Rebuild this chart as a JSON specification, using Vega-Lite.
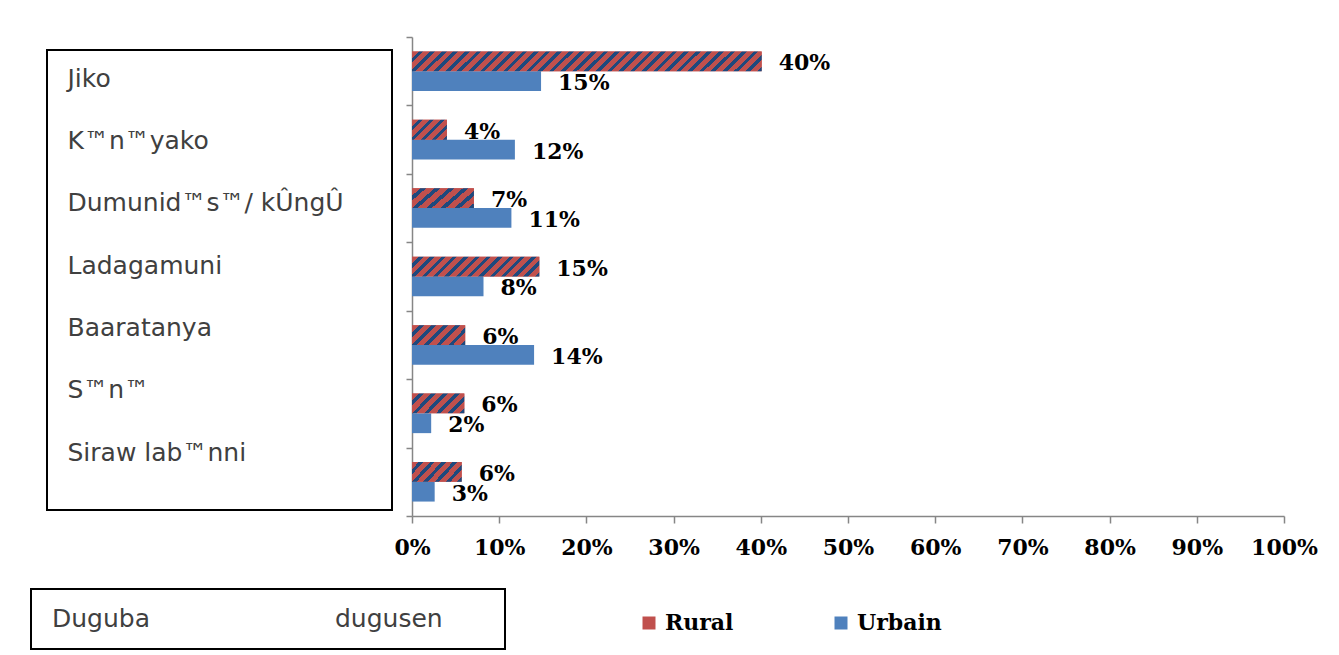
{
  "$schema": "https://vega.github.io/schema/vega-lite/v6.json",
  "padding": {"left": 30, "top": 36, "right": 0, "bottom": 0},
  "background": "white",
  "datasets": {
    "main": [
      {"cat": "Jiko", "series": "Rural", "value": 0.401},
      {"cat": "Jiko", "series": "Urbain", "value": 0.148},
      {"cat": "K™n™yako", "series": "Rural", "value": 0.04},
      {"cat": "K™n™yako", "series": "Urbain", "value": 0.118},
      {"cat": "Dumunid™s™/ kÛngÛ", "series": "Rural", "value": 0.071},
      {"cat": "Dumunid™s™/ kÛngÛ", "series": "Urbain", "value": 0.114},
      {"cat": "Ladagamuni", "series": "Rural", "value": 0.146},
      {"cat": "Ladagamuni", "series": "Urbain", "value": 0.082},
      {"cat": "Baaratanya", "series": "Rural", "value": 0.061},
      {"cat": "Baaratanya", "series": "Urbain", "value": 0.14},
      {"cat": "S™n™", "series": "Rural", "value": 0.06},
      {"cat": "S™n™", "series": "Urbain", "value": 0.022},
      {"cat": "Siraw lab™nni", "series": "Rural", "value": 0.057},
      {"cat": "Siraw lab™nni", "series": "Urbain", "value": 0.026}
    ],
    "footer": [{"word": "Duguba"}, {"word": "dugusen"}],
    "empty": []
  },
  "config": {"view": {"stroke": null}, "legend": {"padding": 0}},
  "resolve": {"legend": {"color": "independent"}},
  "spacing": 30,
  "vconcat": [
    {
      "spacing": 0,
      "resolve": {"legend": {"color": "independent"}},
      "hconcat": [
        {
          "width": 15,
          "height": 1,
          "data": {"name": "empty"},
          "mark": {"type": "text", "text": ""}
        },
        {
          "spacing": 0,
          "vconcat": [
            {
              "width": 1,
              "height": 12,
              "data": {"name": "empty"},
              "mark": {"type": "text", "text": ""}
            },
            {
              "width": 345,
              "height": 460,
              "view": {"stroke": "#000000", "strokeWidth": 2},
              "data": {"name": "main"},
              "transform": [{"filter": "datum.series === 'Rural'"}],
              "mark": {"type": "text", "text": ""},
              "encoding": {
                "y": {
                  "field": "cat", "type": "nominal", "sort": null,
                  "scale": {"type": "point", "range": [28, 402], "padding": 0},
                  "axis": {
                    "title": null, "domain": false, "grid": false, "ticks": false,
                    "labelAlign": "left", "labelBaseline": "middle", "labelPadding": -20,
                    "labelFont": "DejaVu Sans", "labelFontSize": 25, "labelColor": "#404040",
                    "labelLimit": 500, "labelOverlap": false, "minExtent": 0
                  }
                }
              }
            }
          ]
        },
        {
          "width": 872,
          "height": 479,
          "data": {"name": "main"},
          "encoding": {
            "y": {
              "field": "cat", "type": "nominal", "sort": null,
              "scale": {"paddingInner": 0, "paddingOuter": 0},
              "axis": {
                "title": null, "labels": false, "grid": false, "tickBand": "extent",
                "tickSize": 6, "tickColor": "#868686", "tickWidth": 1.5,
                "domainColor": "#868686", "domainWidth": 1.5, "minExtent": 0
              }
            },
            "yOffset": {
              "field": "series", "type": "nominal",
              "scale": {"domain": ["Rural", "Urbain"], "paddingInner": 0, "paddingOuter": 0.73}
            },
            "x": {
              "field": "value", "type": "quantitative",
              "scale": {"domain": [0, 1], "nice": false},
              "axis": {
                "title": null, "format": ".0%", "values": [0, 0.1, 0.2, 0.3, 0.4, 0.5, 0.6, 0.7, 0.8, 0.9, 1],
                "grid": false, "tickSize": 7, "tickColor": "#868686", "tickWidth": 1.5,
                "domainColor": "#868686", "domainWidth": 1.5,
                "labelFont": "DejaVu Serif", "labelFontWeight": "bold", "labelFontSize": 22,
                "labelColor": "#000000", "labelPadding": 14, "labelFlush": false, "labelOverlap": false
              }
            }
          },
          "layer": [
            {
              "mark": {"type": "bar"},
              "encoding": {
                "color": {
                  "field": "series", "type": "nominal",
                  "scale": {"domain": ["Rural", "Urbain"], "range": ["#C0504D", "#4F81BD"]},
                  "legend": null
                }
              }
            },
            {
              "transform": [{"filter": {"and": [{"field": "series", "equal": "Rural"}, {"field": "cat", "oneOf": ["Jiko"]}]}}],
              "mark": {
                "type": "bar",
                "fill": {
                  "gradient": "linear", "x1": 0, "y1": 0, "x2": 1.053, "y2": 0.06,
                  "stops": [
                    {"offset": 0, "color": "#c0504d"}, {"offset": 0.01875, "color": "#c0504d"}, {"offset": 0.01875, "color": "#1f497d"}, {"offset": 0.03125, "color": "#1f497d"},
                    {"offset": 0.03125, "color": "#c0504d"}, {"offset": 0.05, "color": "#c0504d"}, {"offset": 0.05, "color": "#1f497d"}, {"offset": 0.0625, "color": "#1f497d"},
                    {"offset": 0.0625, "color": "#c0504d"}, {"offset": 0.08125, "color": "#c0504d"}, {"offset": 0.08125, "color": "#1f497d"}, {"offset": 0.09375, "color": "#1f497d"},
                    {"offset": 0.09375, "color": "#c0504d"}, {"offset": 0.1125, "color": "#c0504d"}, {"offset": 0.1125, "color": "#1f497d"}, {"offset": 0.125, "color": "#1f497d"},
                    {"offset": 0.125, "color": "#c0504d"}, {"offset": 0.14375, "color": "#c0504d"}, {"offset": 0.14375, "color": "#1f497d"}, {"offset": 0.15625, "color": "#1f497d"},
                    {"offset": 0.15625, "color": "#c0504d"}, {"offset": 0.175, "color": "#c0504d"}, {"offset": 0.175, "color": "#1f497d"}, {"offset": 0.1875, "color": "#1f497d"},
                    {"offset": 0.1875, "color": "#c0504d"}, {"offset": 0.20625, "color": "#c0504d"}, {"offset": 0.20625, "color": "#1f497d"}, {"offset": 0.21875, "color": "#1f497d"},
                    {"offset": 0.21875, "color": "#c0504d"}, {"offset": 0.2375, "color": "#c0504d"}, {"offset": 0.2375, "color": "#1f497d"}, {"offset": 0.25, "color": "#1f497d"},
                    {"offset": 0.25, "color": "#c0504d"}, {"offset": 0.26875, "color": "#c0504d"}, {"offset": 0.26875, "color": "#1f497d"}, {"offset": 0.28125, "color": "#1f497d"},
                    {"offset": 0.28125, "color": "#c0504d"}, {"offset": 0.3, "color": "#c0504d"}, {"offset": 0.3, "color": "#1f497d"}, {"offset": 0.3125, "color": "#1f497d"},
                    {"offset": 0.3125, "color": "#c0504d"}, {"offset": 0.33125, "color": "#c0504d"}, {"offset": 0.33125, "color": "#1f497d"}, {"offset": 0.34375, "color": "#1f497d"},
                    {"offset": 0.34375, "color": "#c0504d"}, {"offset": 0.3625, "color": "#c0504d"}, {"offset": 0.3625, "color": "#1f497d"}, {"offset": 0.375, "color": "#1f497d"},
                    {"offset": 0.375, "color": "#c0504d"}, {"offset": 0.39375, "color": "#c0504d"}, {"offset": 0.39375, "color": "#1f497d"}, {"offset": 0.40625, "color": "#1f497d"},
                    {"offset": 0.40625, "color": "#c0504d"}, {"offset": 0.425, "color": "#c0504d"}, {"offset": 0.425, "color": "#1f497d"}, {"offset": 0.4375, "color": "#1f497d"},
                    {"offset": 0.4375, "color": "#c0504d"}, {"offset": 0.45625, "color": "#c0504d"}, {"offset": 0.45625, "color": "#1f497d"}, {"offset": 0.46875, "color": "#1f497d"},
                    {"offset": 0.46875, "color": "#c0504d"}, {"offset": 0.4875, "color": "#c0504d"}, {"offset": 0.4875, "color": "#1f497d"}, {"offset": 0.5, "color": "#1f497d"},
                    {"offset": 0.5, "color": "#c0504d"}, {"offset": 0.51875, "color": "#c0504d"}, {"offset": 0.51875, "color": "#1f497d"}, {"offset": 0.53125, "color": "#1f497d"},
                    {"offset": 0.53125, "color": "#c0504d"}, {"offset": 0.55, "color": "#c0504d"}, {"offset": 0.55, "color": "#1f497d"}, {"offset": 0.5625, "color": "#1f497d"},
                    {"offset": 0.5625, "color": "#c0504d"}, {"offset": 0.58125, "color": "#c0504d"}, {"offset": 0.58125, "color": "#1f497d"}, {"offset": 0.59375, "color": "#1f497d"},
                    {"offset": 0.59375, "color": "#c0504d"}, {"offset": 0.6125, "color": "#c0504d"}, {"offset": 0.6125, "color": "#1f497d"}, {"offset": 0.625, "color": "#1f497d"},
                    {"offset": 0.625, "color": "#c0504d"}, {"offset": 0.64375, "color": "#c0504d"}, {"offset": 0.64375, "color": "#1f497d"}, {"offset": 0.65625, "color": "#1f497d"},
                    {"offset": 0.65625, "color": "#c0504d"}, {"offset": 0.675, "color": "#c0504d"}, {"offset": 0.675, "color": "#1f497d"}, {"offset": 0.6875, "color": "#1f497d"},
                    {"offset": 0.6875, "color": "#c0504d"}, {"offset": 0.70625, "color": "#c0504d"}, {"offset": 0.70625, "color": "#1f497d"}, {"offset": 0.71875, "color": "#1f497d"},
                    {"offset": 0.71875, "color": "#c0504d"}, {"offset": 0.7375, "color": "#c0504d"}, {"offset": 0.7375, "color": "#1f497d"}, {"offset": 0.75, "color": "#1f497d"},
                    {"offset": 0.75, "color": "#c0504d"}, {"offset": 0.76875, "color": "#c0504d"}, {"offset": 0.76875, "color": "#1f497d"}, {"offset": 0.78125, "color": "#1f497d"},
                    {"offset": 0.78125, "color": "#c0504d"}, {"offset": 0.8, "color": "#c0504d"}, {"offset": 0.8, "color": "#1f497d"}, {"offset": 0.8125, "color": "#1f497d"},
                    {"offset": 0.8125, "color": "#c0504d"}, {"offset": 0.83125, "color": "#c0504d"}, {"offset": 0.83125, "color": "#1f497d"}, {"offset": 0.84375, "color": "#1f497d"},
                    {"offset": 0.84375, "color": "#c0504d"}, {"offset": 0.8625, "color": "#c0504d"}, {"offset": 0.8625, "color": "#1f497d"}, {"offset": 0.875, "color": "#1f497d"},
                    {"offset": 0.875, "color": "#c0504d"}, {"offset": 0.89375, "color": "#c0504d"}, {"offset": 0.89375, "color": "#1f497d"}, {"offset": 0.90625, "color": "#1f497d"},
                    {"offset": 0.90625, "color": "#c0504d"}, {"offset": 0.925, "color": "#c0504d"}, {"offset": 0.925, "color": "#1f497d"}, {"offset": 0.9375, "color": "#1f497d"},
                    {"offset": 0.9375, "color": "#c0504d"}, {"offset": 0.95625, "color": "#c0504d"}, {"offset": 0.95625, "color": "#1f497d"}, {"offset": 0.96875, "color": "#1f497d"},
                    {"offset": 0.96875, "color": "#c0504d"}, {"offset": 0.9875, "color": "#c0504d"}, {"offset": 0.9875, "color": "#1f497d"}, {"offset": 1, "color": "#1f497d"}
                  ]
                }
              }
            },
            {
              "transform": [{"filter": {"and": [{"field": "series", "equal": "Rural"}, {"field": "cat", "oneOf": ["Ladagamuni"]}]}}],
              "mark": {
                "type": "bar",
                "fill": {
                  "gradient": "linear", "x1": 0, "y1": 0, "x2": 1.128, "y2": 0.175,
                  "stops": [
                    {"offset": 0, "color": "#c0504d"}, {"offset": 0.0462, "color": "#c0504d"}, {"offset": 0.0462, "color": "#1f497d"}, {"offset": 0.0769, "color": "#1f497d"},
                    {"offset": 0.0769, "color": "#c0504d"}, {"offset": 0.1231, "color": "#c0504d"}, {"offset": 0.1231, "color": "#1f497d"}, {"offset": 0.1538, "color": "#1f497d"},
                    {"offset": 0.1538, "color": "#c0504d"}, {"offset": 0.2, "color": "#c0504d"}, {"offset": 0.2, "color": "#1f497d"}, {"offset": 0.2308, "color": "#1f497d"},
                    {"offset": 0.2308, "color": "#c0504d"}, {"offset": 0.2769, "color": "#c0504d"}, {"offset": 0.2769, "color": "#1f497d"}, {"offset": 0.3077, "color": "#1f497d"},
                    {"offset": 0.3077, "color": "#c0504d"}, {"offset": 0.3538, "color": "#c0504d"}, {"offset": 0.3538, "color": "#1f497d"}, {"offset": 0.3846, "color": "#1f497d"},
                    {"offset": 0.3846, "color": "#c0504d"}, {"offset": 0.4308, "color": "#c0504d"}, {"offset": 0.4308, "color": "#1f497d"}, {"offset": 0.4615, "color": "#1f497d"},
                    {"offset": 0.4615, "color": "#c0504d"}, {"offset": 0.5077, "color": "#c0504d"}, {"offset": 0.5077, "color": "#1f497d"}, {"offset": 0.5385, "color": "#1f497d"},
                    {"offset": 0.5385, "color": "#c0504d"}, {"offset": 0.5846, "color": "#c0504d"}, {"offset": 0.5846, "color": "#1f497d"}, {"offset": 0.6154, "color": "#1f497d"},
                    {"offset": 0.6154, "color": "#c0504d"}, {"offset": 0.6615, "color": "#c0504d"}, {"offset": 0.6615, "color": "#1f497d"}, {"offset": 0.6923, "color": "#1f497d"},
                    {"offset": 0.6923, "color": "#c0504d"}, {"offset": 0.7385, "color": "#c0504d"}, {"offset": 0.7385, "color": "#1f497d"}, {"offset": 0.7692, "color": "#1f497d"},
                    {"offset": 0.7692, "color": "#c0504d"}, {"offset": 0.8154, "color": "#c0504d"}, {"offset": 0.8154, "color": "#1f497d"}, {"offset": 0.8462, "color": "#1f497d"},
                    {"offset": 0.8462, "color": "#c0504d"}, {"offset": 0.8923, "color": "#c0504d"}, {"offset": 0.8923, "color": "#1f497d"}, {"offset": 0.9231, "color": "#1f497d"},
                    {"offset": 0.9231, "color": "#c0504d"}, {"offset": 0.9692, "color": "#c0504d"}, {"offset": 0.9692, "color": "#1f497d"}, {"offset": 1, "color": "#1f497d"}
                  ]
                }
              }
            },
            {
              "transform": [{"filter": {"and": [{"field": "series", "equal": "Rural"}, {"field": "cat", "oneOf": ["Dumunid™s™/ kÛngÛ", "Baaratanya", "S™n™", "Siraw lab™nni"]}]}}],
              "mark": {
                "type": "bar",
                "fill": {
                  "gradient": "linear", "x1": 0, "y1": 0, "x2": 1.205, "y2": 0.442,
                  "stops": [
                    {"offset": 0, "color": "#c0504d"}, {"offset": 0.1, "color": "#c0504d"}, {"offset": 0.1, "color": "#1f497d"}, {"offset": 0.1667, "color": "#1f497d"},
                    {"offset": 0.1667, "color": "#c0504d"}, {"offset": 0.2667, "color": "#c0504d"}, {"offset": 0.2667, "color": "#1f497d"}, {"offset": 0.3333, "color": "#1f497d"},
                    {"offset": 0.3333, "color": "#c0504d"}, {"offset": 0.4333, "color": "#c0504d"}, {"offset": 0.4333, "color": "#1f497d"}, {"offset": 0.5, "color": "#1f497d"},
                    {"offset": 0.5, "color": "#c0504d"}, {"offset": 0.6, "color": "#c0504d"}, {"offset": 0.6, "color": "#1f497d"}, {"offset": 0.6667, "color": "#1f497d"},
                    {"offset": 0.6667, "color": "#c0504d"}, {"offset": 0.7667, "color": "#c0504d"}, {"offset": 0.7667, "color": "#1f497d"}, {"offset": 0.8333, "color": "#1f497d"},
                    {"offset": 0.8333, "color": "#c0504d"}, {"offset": 0.9333, "color": "#c0504d"}, {"offset": 0.9333, "color": "#1f497d"}, {"offset": 1, "color": "#1f497d"}
                  ]
                }
              }
            },
            {
              "transform": [{"filter": {"and": [{"field": "series", "equal": "Rural"}, {"field": "cat", "oneOf": ["K™n™yako"]}]}}],
              "mark": {
                "type": "bar",
                "fill": {
                  "gradient": "linear", "x1": 0, "y1": 0, "x2": 1.186, "y2": 0.672,
                  "stops": [
                    {"offset": 0, "color": "#c0504d"}, {"offset": 0.12, "color": "#c0504d"}, {"offset": 0.12, "color": "#1f497d"}, {"offset": 0.2, "color": "#1f497d"},
                    {"offset": 0.2, "color": "#c0504d"}, {"offset": 0.32, "color": "#c0504d"}, {"offset": 0.32, "color": "#1f497d"}, {"offset": 0.4, "color": "#1f497d"},
                    {"offset": 0.4, "color": "#c0504d"}, {"offset": 0.52, "color": "#c0504d"}, {"offset": 0.52, "color": "#1f497d"}, {"offset": 0.6, "color": "#1f497d"},
                    {"offset": 0.6, "color": "#c0504d"}, {"offset": 0.72, "color": "#c0504d"}, {"offset": 0.72, "color": "#1f497d"}, {"offset": 0.8, "color": "#1f497d"},
                    {"offset": 0.8, "color": "#c0504d"}, {"offset": 0.92, "color": "#c0504d"}, {"offset": 0.92, "color": "#1f497d"}, {"offset": 1, "color": "#1f497d"}
                  ]
                }
              }
            },
            {
              "mark": {
                "type": "text", "align": "left", "baseline": "middle", "dx": 17, "dy": 2,
                "font": "DejaVu Serif", "fontWeight": "bold", "fontSize": 22, "color": "#000000"
              },
              "encoding": {"text": {"field": "value", "type": "quantitative", "format": ".0%"}}
            }
          ]
        }
      ]
    },
    {
      "spacing": 20,
      "resolve": {"legend": {"color": "independent"}},
      "hconcat": [
        {
          "width": 474,
          "height": 60,
          "view": {"stroke": "#000000", "strokeWidth": 2},
          "data": {"name": "footer"},
          "mark": {"type": "text", "align": "left", "baseline": "middle", "font": "DejaVu Sans", "fontSize": 25, "color": "#404040"},
          "encoding": {
            "x": {"field": "word", "type": "nominal", "sort": null, "scale": {"type": "point", "range": [21, 304], "padding": 0}, "axis": null},
            "text": {"field": "word", "type": "nominal"}
          }
        },
        {
          "width": 1,
          "height": 60,
          "data": {"name": "main"},
          "mark": {"type": "text", "text": ""},
          "encoding": {
            "color": {
              "field": "series", "type": "nominal",
              "scale": {"domain": ["Rural", "Urbain"], "range": ["#C0504D", "#4F81BD"]},
              "legend": {
                "orient": "none", "legendX": 112, "legendY": 23, "direction": "horizontal", "title": null,
                "symbolType": "square", "symbolSize": 169, "symbolStrokeWidth": 0, "symbolOpacity": 1,
                "labelFont": "DejaVu Serif", "labelFontWeight": "bold", "labelFontSize": 22, "labelColor": "#000000",
                "columnPadding": 96, "labelOffset": 5,
                "encode": {
                  "symbols": {
                    "update": {
                      "fill": [
                        {
                          "test": "datum.value === 'Rural'",
                          "value": {
                            "gradient": "linear", "x1": 0, "y1": 0, "x2": 1, "y2": 1,
                            "stops": [
                              {"offset": 0, "color": "#c0504d"}, {"offset": 0.38, "color": "#c0504d"}, {"offset": 0.38, "color": "#1f497d"}, {"offset": 0.56, "color": "#1f497d"},
                              {"offset": 0.56, "color": "#c0504d"}, {"offset": 0.86, "color": "#c0504d"}, {"offset": 0.86, "color": "#1f497d"}, {"offset": 1, "color": "#1f497d"}
                            ]
                          }
                        },
                        {"value": "#4F81BD"}
                      ]
                    }
                  }
                }
              }
            }
          }
        }
      ]
    }
  ]
}
